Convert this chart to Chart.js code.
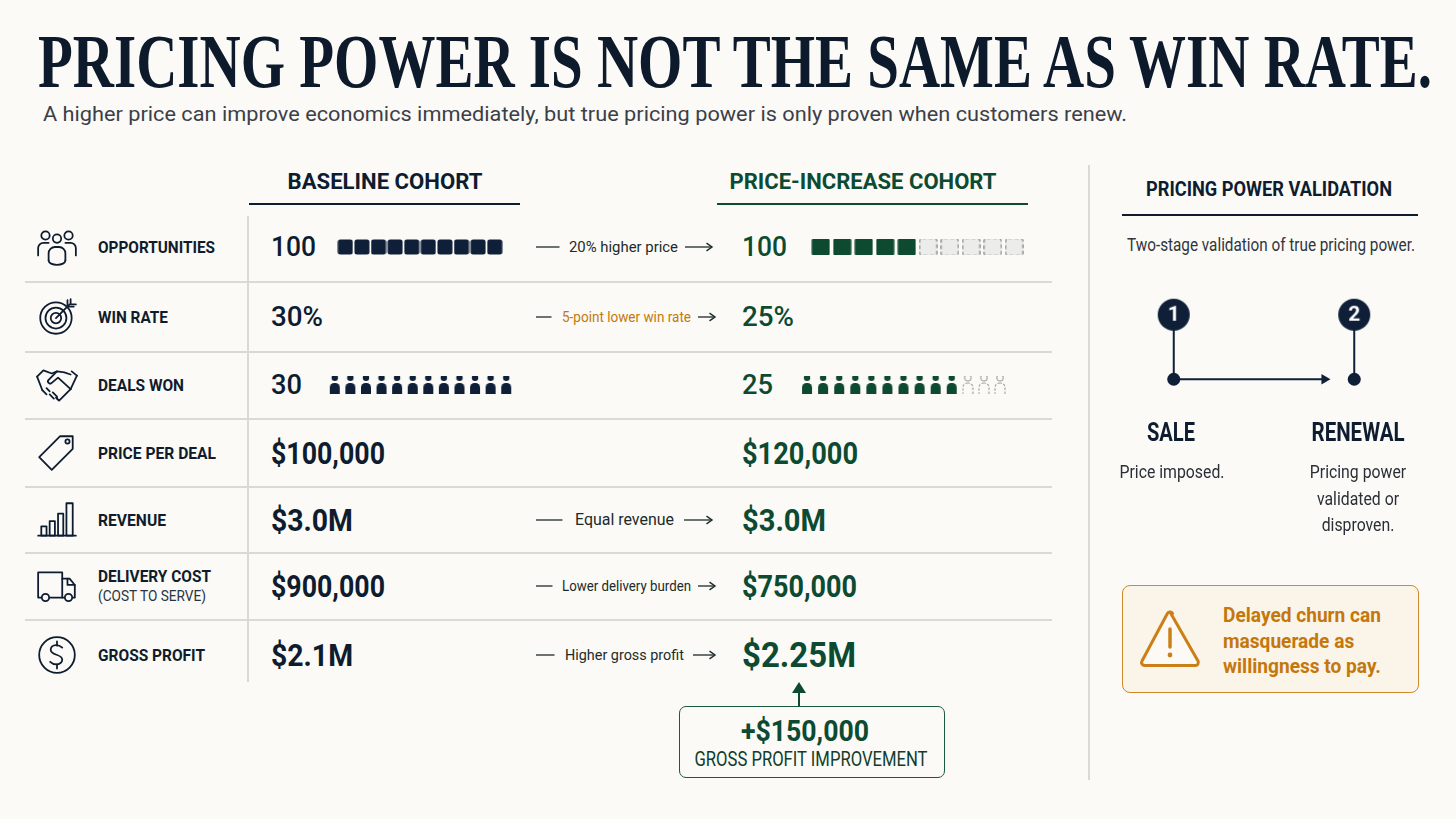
<!DOCTYPE html>
<html>
<head>
<meta charset="utf-8">
<script src="https://cdn.jsdelivr.net/npm/chart.js@4.4.1/dist/chart.umd.min.js"></script>
<style>
  html, body { margin: 0; padding: 0; background: #fbfaf6; }
  #page {
    position: relative; width: 1456px; height: 819px; overflow: hidden;
    background: #fbfaf6; color: #0e1c30;
    font-family: Roboto, "Noto Sans", sans-serif;
  }
  .t { position: absolute; white-space: nowrap; line-height: 1; transform: translateY(-50%); transform-origin: 0 50%; }
  .c { transform: translate(-50%, -50%); transform-origin: 50% 50%; }
  .b { font-weight: 700; }
  #title { font-family: "Liberation Serif", serif; font-weight: 700; font-size: 77px; line-height: 0.7; color: #0c1a2c; }
  #subtitle { font-size: 21px; color: #3b4048; }
  .rule { position: absolute; background: #d9d9d5; height: 1.5px; }
  .vrule { position: absolute; background: #d9d9d5; width: 1.5px; }
  .head { font-size: 22.5px; font-weight: 700; }
  .uline { position: absolute; height: 2px; }
  .label { font-size: 17px; font-weight: 700; color: #101c2c; }
  .sub { font-size: 15.5px; color: #2a3340; }
  .val { font-size: 31px; font-weight: 700; }
  .valS { font-size: 28px; font-weight: 500; }
  .navy { color: #0e1c30; }
  .green { color: #0d4a32; }
  .orange { color: #c4780c; }
  .note { font-size: 15px; color: #1c2b2a; }
  .icon { position: absolute; width: 44px; height: 44px; transform: translate(-50%, -50%); }
  canvas.strip, svg.ln { position: absolute; }
  #callout { position: absolute; left: 679px; top: 706px; width: 266px; height: 72px; border: 1.5px solid #1a5a3e; border-radius: 7px; box-sizing: border-box; background: #fbfaf6; }
  #warn { position: absolute; left: 1122px; top: 585px; width: 297px; height: 108px; border: 1.5px solid #cf8a2c; border-radius: 8px; box-sizing: border-box; background: #fbf4e8; }
</style>
</head>
<body>
<div id="page"></div>
<script>
// ---- data ----
const rowLabels = ['OPPORTUNITIES', 'WIN RATE', 'DEALS WON', 'PRICE PER DEAL', 'REVENUE', 'DELIVERY COST', 'GROSS PROFIT'];
const rowSubLabels = ['', '', '', '', '', '(COST TO SERVE)', ''];
const baselineValues = ['100', '30%', '30', '$100,000', '$3.0M', '$900,000', '$2.1M'];
const increaseValues = ['100', '25%', '25', '$120,000', '$3.0M', '$750,000', '$2.25M'];
const changeNotes = ['20% higher price', '5-point lower win rate', '', '', 'Equal revenue', 'Lower delivery burden', 'Higher gross profit'];
const oppBlocksBaseline = [1, 1, 1, 1, 1, 1, 1, 1, 1, 1];
const oppBlocksIncrease = [1, 1, 1, 1, 1, 0, 0, 0, 0, 0];
const dealsBaseline = [1, 1, 1, 1, 1, 1, 1, 1, 1, 1, 1, 1];
const dealsIncrease = [1, 1, 1, 1, 1, 1, 1, 1, 1, 1, 0, 0, 0];
const stages = ['SALE', 'RENEWAL'];
const stageNumbers = [1, 2];
const stageNotes = [['Price imposed.'], ['Pricing power', 'validated or', 'disproven.']];
const warning = ['Delayed churn can', 'masquerade as', 'willingness to pay.'];
const improvement = ['+$150,000', 'GROSS PROFIT IMPROVEMENT'];

// ---- layout (reference pixels) ----
const NAVY = '#0e1c30', GREEN = '#0d4a32';
const rowEdges = [214, 281, 351, 418, 486, 552, 619, 692];
const rowY = [247, 317, 385, 453, 520, 586, 655];
const labelW = [117, 70, 86, 118, 68, 113, 107];
const baseW = [45, 52, 31, 114, 82, 114, 82];
const incW = [45, 52, 31, 116, 84, 115, 114];
// note geometry: [dashStart, dashEnd, textStart, textWidth, arrowStart, arrowEnd]
const noteGeo = [
  [536, 560, 569, 109, 685, 712], [536, 552, 562, 129, 698, 715], null, null,
  [536, 563, 575, 99, 684, 712], [536, 553, 562, 129, 698, 715], [536, 555, 565, 119, 693, 715]
];

const page = document.getElementById('page');
const fits = [];
function text(str, x, y, cls, opt) {
  opt = opt || {};
  const d = document.createElement('div');
  d.className = 't ' + (opt.center ? 'c ' : '') + (cls || '');
  d.style.left = x + 'px';
  d.style.top = y + 'px';
  if (opt.size) d.style.fontSize = opt.size + 'px';
  if (opt.color) d.style.color = opt.color;
  d.textContent = str;
  page.appendChild(d);
  fits.push({ el: d, w: opt.w, g: opt.g, center: opt.center });
  return d;
}
function box(cls, x, y, w, h, color) {
  const d = document.createElement('div');
  d.className = cls;
  d.style.left = x + 'px'; d.style.top = y + 'px';
  if (w != null) d.style.width = w + 'px';
  if (h != null) d.style.height = h + 'px';
  if (color) d.style.background = color;
  page.appendChild(d);
  return d;
}
function line(x1, x2, y, color, head) {
  const s = document.createElementNS('http://www.w3.org/2000/svg', 'svg');
  s.setAttribute('class', 'ln');
  s.setAttribute('width', x2 - x1 + 2); s.setAttribute('height', 12);
  s.style.left = x1 + 'px'; s.style.top = (y - 6) + 'px';
  const L = x2 - x1;
  s.innerHTML = `<path d="M0 6H${L - 0.5}" stroke="${color}" stroke-width="1.3"/>` +
    (head ? `<path d="M${L - 5.5} 2.2L${L} 6L${L - 5.5} 9.8" fill="none" stroke="${color}" stroke-width="1.4"/>` : '');
  page.appendChild(s);
}

// title + subtitle
text('PRICING POWER IS NOT THE SAME AS WIN RATE.', 38, 62, '', { w: 1394 }).id = 'title';
text('A higher price can improve economics immediately, but true pricing power is only proven when customers renew.', 43, 114, '', { w: 1084 }).id = 'subtitle';

// column heads
text('BASELINE COHORT', 385, 181, 'head navy', { center: true, w: 195 });
box('uline', 249, 203, 271, null, NAVY);
text('PRICE-INCREASE COHORT', 863, 181, 'head green', { center: true, w: 267 });
box('uline', 717, 203, 311, null, GREEN);

// table rules
for (let i = 1; i < rowEdges.length - 1; i++) box('rule', 25, rowEdges[i], 1027);
box('vrule', 247, 216, null, 466);
box('vrule', 1088, 165, null, 615);

// icons
const S = 'fill="none" stroke="#0e1c30" stroke-width="1.7" stroke-linecap="round" stroke-linejoin="round"';
const icons = [
  `<svg viewBox="0 0 42 42"><g ${S}><circle cx="10" cy="10" r="4"/><circle cx="21" cy="13" r="4"/><circle cx="32" cy="10" r="4"/><path d="M3 29v-7a5 5 0 0 1 5-5h5"/><path d="M39 29v-7a5 5 0 0 0-5-5h-5"/><path d="M13 34v-7a6 6 0 0 1 6-6h4a6 6 0 0 1 6 6v7"/><path d="M13 34a8 4 0 0 0 16 0"/></g></svg>`,
  `<svg viewBox="0 0 42 42"><g ${S}><circle cx="20" cy="22" r="15"/><circle cx="20" cy="22" r="10"/><circle cx="20" cy="22" r="5"/><path d="M20 22L33 9"/><path d="M31 5v6h6"/><path d="M34 4v5h5"/></g></svg>`,
  `<svg viewBox="0 0 42 42"><g ${S}><path d="M2 13l6-6 8 3 5-2 7 1 6 2"/><path d="M2 13l5 13"/><path d="M40 12l-5-4"/><path d="M40 12l-6 13"/><path d="M21 8l-8 8a2 2 0 0 0 3 3l6-5 12 11"/><path d="M7 26l4 4"/><path d="M11 24l3 3M14 30l4 4M17 28l4 4M20 33l3 3"/><path d="M34 25l-10 10a2 2 0 0 1-3-2"/></g></svg>`,
  `<svg viewBox="0 0 42 42"><g ${S}><path d="M24 5h12v12L16 37 4 25z"/><circle cx="31" cy="10" r="2"/></g></svg>`,
  `<svg viewBox="0 0 42 42"><g ${S}><path d="M3 36h36"/><rect x="6" y="27" width="5" height="9"/><rect x="14" y="22" width="5" height="14"/><rect x="22" y="15" width="5" height="21"/><rect x="30" y="5" width="6" height="31"/></g></svg>`,
  `<svg viewBox="0 0 42 42"><g ${S}><path d="M3 8h23v24H3z"/><path d="M26 14h7l5 6v12h-12"/><path d="M31 14v6h7"/><circle cx="10" cy="32" r="3.5" fill="#fbfaf6"/><circle cx="32" cy="32" r="3.5" fill="#fbfaf6"/></g></svg>`,
  `<svg viewBox="0 0 42 42"><g ${S}><circle cx="21" cy="21" r="17"/><path d="M26 14c-2-2-4-2.5-6-2.5-3 0-5 2-5 4.5 0 6 11 3.5 11 9.5 0 2.5-2.5 4.5-5.5 4.5-2.5 0-4.5-1-6-2.5"/><path d="M21 8v4M21 30v4"/></g></svg>`
];

// rows
rowLabels.forEach((lab, i) => {
  const y = rowY[i];
  box('icon', 57, y).innerHTML = icons[i];
  if (rowSubLabels[i]) {
    text(lab, 98, y - 10, 'label', { w: labelW[i] });
    text(rowSubLabels[i], 98, y + 11, 'sub', { w: 108 });
  } else {
    text(lab, 98, y, 'label', { w: labelW[i] });
  }
  const small = i < 3;
  const big = i === 6;
  text(baselineValues[i], 271, y, (small ? 'valS' : 'val') + ' navy', { w: baseW[i], size: big ? 32 : null });
  text(increaseValues[i], 742, y, (small ? 'valS' : 'val') + ' green', { w: incW[i], size: big ? 35 : null });
  const g = noteGeo[i];
  if (g) {
    const col = '#1c2b2a';
    line(g[0], g[1], y, col, false);
    text(changeNotes[i], g[2], y, 'note', { w: g[3], color: i === 1 ? '#c4780c' : null, size: i === 5 ? 14 : (i === 4 ? 16 : 15) });
    line(g[4], g[5], y, col, true);
  }
});

// ---- sprites ----
function sprite(w, h, draw) {
  const c = document.createElement('canvas');
  c.width = w; c.height = h;
  draw(c.getContext('2d'), w, h);
  return c;
}
function rr(ctx, x, y, w, h, r) { ctx.beginPath(); ctx.roundRect(x, y, w, h, r); }
const blockFill = (size, color) => sprite(size, size, (ctx, w, h) => {
  rr(ctx, 0.5, 0.5, w - 1, h - 1, 2.5); ctx.fillStyle = color; ctx.fill();
});
const blockEmpty = size => sprite(size, size, (ctx, w, h) => {
  rr(ctx, 0.9, 0.9, w - 1.8, h - 1.8, 2.5); ctx.fillStyle = '#ececea'; ctx.fill();
  ctx.setLineDash([4, 2.5]); ctx.strokeStyle = '#8c8c8a'; ctx.lineWidth = 1.3; ctx.stroke();
});
const person = (color, outline) => sprite(12, 22, (ctx, w, h) => {
  ctx.beginPath(); ctx.arc(w / 2, 3.8, 3.2, 0, Math.PI * 2);
  if (outline) { ctx.strokeStyle = '#a0a09e'; ctx.lineWidth = 1.1; ctx.stroke(); } else { ctx.fillStyle = color; ctx.fill(); }
  rr(ctx, 1, 9, w - 2, h - 10, [4.5, 4.5, 1.5, 1.5]);
  if (outline) { ctx.setLineDash([2.5, 1.5]); ctx.stroke(); } else { ctx.fill(); }
});

const quiet = {
  responsive: false, animation: false, events: [],
  layout: { padding: 0 },
  plugins: { legend: { display: false }, tooltip: { enabled: false } }
};
function strip(values, onImg, offImg, x, y, w, h) {
  const c = document.createElement('canvas');
  c.className = 'strip';
  c.width = w; c.height = h;
  c.style.left = x + 'px'; c.style.top = (y - h / 2) + 'px';
  c.style.width = w + 'px'; c.style.height = h + 'px';
  page.appendChild(c);
  new Chart(c, {
    type: 'scatter',
    data: { datasets: [{ data: values.map((v, i) => ({ x: i + 1, y: 0 })), pointStyle: ctx => values[ctx.dataIndex] ? onImg : offImg }] },
    options: Object.assign({}, quiet, {
      scales: { x: { type: 'linear', display: false, min: 0.5, max: values.length + 0.5 }, y: { display: false, min: -1, max: 1 } }
    })
  });
}
strip(oppBlocksBaseline, blockFill(16, '#0f1f38'), null, 332, rowY[0], 176, 26);
strip(oppBlocksIncrease, blockFill(19, '#0e4a30'), blockEmpty(19), 805, rowY[0], 225, 26);
strip(dealsBaseline, person('#0f1f38'), null, 322, rowY[2], 197, 28);
strip(dealsIncrease, person('#0e4a30'), person(null, true), 794, rowY[2], 219, 28);

// ---- right panel ----
text('PRICING POWER VALIDATION', 1269, 190, 'b', { center: true, size: 19.5, w: 246 });
box('uline', 1122, 214, 296, null, NAVY).style.height = '1.6px';
text('Two-stage validation of true pricing power.', 1271, 245, '', { center: true, size: 18, w: 288, color: '#30353d' });

const numberBadge = n => sprite(34, 34, (ctx, w, h) => {
  ctx.beginPath(); ctx.arc(w / 2, h / 2, 16, 0, Math.PI * 2); ctx.fillStyle = '#0f1f38'; ctx.fill();
  ctx.fillStyle = '#ffffff'; ctx.font = 'bold 21px Roboto, sans-serif';
  ctx.textAlign = 'center'; ctx.textBaseline = 'middle'; ctx.fillText(String(n), w / 2, h / 2 + 1);
});
const flow = document.createElement('canvas');
flow.className = 'strip';
flow.width = 374; flow.height = 142;
flow.style.left = '1077px'; flow.style.top = '276px';
flow.style.width = '374px'; flow.style.height = '142px';
page.appendChild(flow);
const headAt = stageNumbers[1] - 0.165;
new Chart(flow, {
  type: 'scatter',
  data: {
    datasets: [
      { data: stageNumbers.map(s => ({ x: s, y: 1 })), pointStyle: stageNumbers.map(numberBadge) },
      { data: stageNumbers.map(s => ({ x: s, y: 0 })), pointRadius: 6.5, backgroundColor: '#0f1f38', borderWidth: 0 },
      { data: [{ x: headAt, y: 0 }], pointStyle: 'triangle', rotation: 90, pointRadius: 6, backgroundColor: '#0f1f38', borderWidth: 0 },
      { type: 'line', data: [{ x: stageNumbers[0], y: 0 }, { x: headAt, y: 0 }], borderColor: '#0f1f38', borderWidth: 2, pointRadius: 0 },
      ...stageNumbers.map(s => ({ type: 'line', data: [{ x: s, y: 1 }, { x: s, y: 0 }], borderColor: '#0f1f38', borderWidth: 2, pointRadius: 0 }))
    ]
  },
  options: Object.assign({}, quiet, {
    scales: { x: { type: 'linear', display: false, min: 0.5, max: 2.5 }, y: { display: false, min: -0.5, max: 1.5 } }
  })
});
const stageX = [1171, 1358];
const stageW = [48, 93];
stages.forEach((s, i) => {
  text(s, stageX[i], 432, 'b', { center: true, size: 25, w: stageW[i] });
  stageNotes[i].forEach((l, j) => {
    text(l, stageX[i] + (i ? 0 : 1), 472 + j * 26.5, '', { center: true, size: 18.5, color: '#2a2f37', g: 'sn', w: (i === 0 ? 105 : null) });
  });
});

// warning box
const warn = box('', 1122, 585);
warn.id = 'warn';
warn.innerHTML = `<svg style="position:absolute;left:15px;top:21px" width="64" height="62" viewBox="0 0 64 62"><path d="M32 5L60 54a3 3 0 0 1-2.6 4.5H6.6A3 3 0 0 1 4 54L29.4 6.5a3 3 0 0 1 5.2 0z" fill="#fdfaf5" stroke="#cc7f16" stroke-width="3" stroke-linejoin="round"/><path d="M32 22v18" stroke="#cc7f16" stroke-width="3.5" stroke-linecap="round"/><circle cx="32" cy="48" r="2.4" fill="#cc7f16"/></svg>`;
warning.forEach((l, j) => {
  text(l, 1223, 615 + j * 25.5, 'b orange', { size: 21, g: 'wn', w: (j === 0 ? 158 : null) });
});

// callout under gross profit
box('', 798, 690, 2, 17, GREEN).style.position = 'absolute';
const tip = document.createElement('div');
tip.style.cssText = 'position:absolute;left:791.5px;top:682px;width:0;height:0;border-left:7.5px solid transparent;border-right:7.5px solid transparent;border-bottom:11px solid #0d4a32;';
page.appendChild(tip);
box('', 679, 706).id = 'callout';
text(improvement[0], 805, 731, 'b green', { center: true, size: 30, w: 128 });
text(improvement[1], 811, 759, '', { center: true, size: 20, w: 233, color: '#103d2c' });

// squeeze texts horizontally to the reference widths
document.fonts.ready.then(() => {
  const groupF = {};
  fits.forEach(f => {
    if (f.w) {
      const k = f.w / f.el.getBoundingClientRect().width;
      if (f.g) groupF[f.g] = k;
      f.k = k;
    }
  });
  fits.forEach(f => {
    const k = f.k || (f.g ? groupF[f.g] : null);
    if (!k) return;
    f.el.style.transform = (f.center ? 'translate(-50%, -50%)' : 'translateY(-50%)') + ' scaleX(' + k.toFixed(4) + ')';
  });
});
</script>
</body>
</html>
